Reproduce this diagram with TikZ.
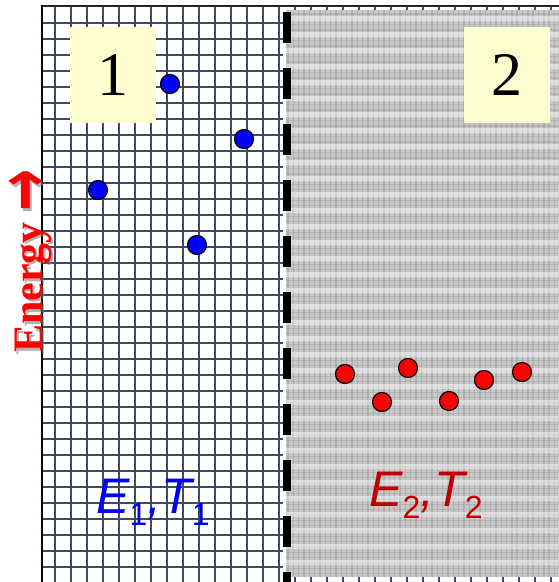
\documentclass[tikz,border=0pt]{standalone}
\usepackage{fontspec}
\usepackage{graphicx}
\setmainfont{Liberation Serif}
\setsansfont{Liberation Sans}
\newfontfamily\arrowfont{DejaVu Sans}
\usetikzlibrary{positioning}
\definecolor{gridgrey}{HTML}{3E4C62}
\definecolor{paleyellow}{HTML}{FFFDD0}
\definecolor{hotred}{HTML}{C00000}
\definecolor{dotblue}{HTML}{0000FF}
\definecolor{dotred}{HTML}{FF0000}
\definecolor{texgrey}{HTML}{C8C8C8}
\newcommand{\lowsub}[1]{\raisebox{-0.24em}{\fontsize{32}{32}\selectfont\upshape #1}}
\newcommand{\uparr}{\raisebox{-7pt}[0pt][0pt]{\arrowfont\scalebox{1.2}[1.8]{→}}}

\begin{document}
\begin{tikzpicture}[x=1pt,y=-1pt,
  cell/.style={draw=gridgrey,line width=1.7pt},
  numbox/.style={fill=paleyellow,minimum width=86pt,minimum height=96pt,inner sep=0pt,font=\fontsize{62}{62}\selectfont},
  cold/.style={circle,draw=black,line width=1.2pt,fill=dotblue,minimum size=19pt,inner sep=0pt},
  hot/.style={cold,fill=dotred},
  stlabel/.style={font=\sffamily\itshape\fontsize{50}{50}\selectfont,anchor=base west,inner sep=0pt},
  axlabel/.style={rotate=90,anchor=base,inner sep=0pt,font=\bfseries\fontsize{42}{42}\selectfont},
  wall/.style={line width=7.5pt,dash pattern=on 31pt off 25pt}
  ]
\useasboundingbox (0,0) rectangle (559,582);
\fill[white] (0,0) rectangle (559,582);
\begin{scope}
  \clip (42,6) rectangle (559,582);
  \foreach \x in {55,71,...,559} \draw[cell] (\x,6) -- (\x,582);
  \foreach \y in {23.3,39.3,...,582} \draw[cell] (42,\y) -- (559,\y);
\end{scope}
\fill[white] (283,8) rectangle (287,582);
\begin{scope}
  \clip (286,10) rectangle (559,577);
  \fill[texgrey] (286,10) rectangle (559,577);
  \foreach \x in {288,293.33,...,560} \draw[gray!70,opacity=0.7,line width=1.4pt] (\x,10) -- (\x,577);
  \foreach \y in {14,19.33,...,577} \draw[gray!70,opacity=0.5,line width=1.2pt] (286,\y) -- (559,\y);
  \foreach \y in {18,34,...,577} \draw[white,opacity=0.45,line width=5pt] (286,\y) -- (559,\y);
\end{scope}
\draw[black!85,line width=2pt] (42,5.5) -- (559,5.5);
\draw[black,line width=1.5pt] (42,5) -- (42,582);
\draw[wall] (287,12) -- (287,582);

\node[numbox] (box1) at (113,75) {1};
\node[numbox] (box2) at (507,75) {2};

\node[cold] (b1) at (170,84) {};
\node[cold] (b2) at (244,139) {};
\node[cold] (b3) at (98,190) {};
\node[cold] (b4) at (197,245) {};

\node[hot] (r1) at (345,374) {};
\node[hot] (r2) at (382,402) {};
\node[hot] (r3) at (408,368) {};
\node[hot] (r4) at (449,401) {};
\node[hot] (r5) at (484,380) {};
\node[hot] (r6) at (522,372) {};

\node[stlabel,text=dotblue] (lbl1) at (96,513) {E\lowsub{1},T\lowsub{1}};
\node[stlabel,text=hotred] (lbl2) at (369,506) {E\lowsub{2},T\lowsub{2}};

\node[axlabel,text=gray,opacity=0.6] (energyshade) at (44.5,263.5) {Energy \uparr};
\node[axlabel,text=red] (energy) at (42,261) {Energy \uparr};
\end{tikzpicture}
\end{document}
